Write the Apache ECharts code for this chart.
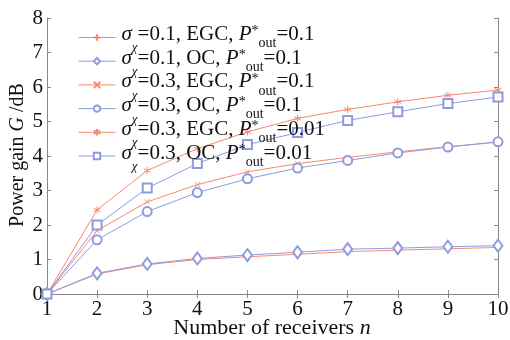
<!DOCTYPE html>
<html><head><meta charset="utf-8">
<script src="https://cdn.jsdelivr.net/npm/echarts@6/dist/echarts.min.js"></script>
<style>html,body{margin:0;padding:0;background:#fff}#c{width:510px;height:340px}</style>
</head><body><div id="c"></div>
<script>
const receivers = [1,2,3,4,5,6,7,8,9,10];
const egc01_p01 = [0,0.58,0.85,1.00,1.08,1.15,1.23,1.27,1.31,1.35];
const oc01_p01  = [0,0.60,0.87,1.03,1.13,1.21,1.30,1.33,1.37,1.40];
const egc03_p01 = [0,1.84,2.67,3.17,3.54,3.78,3.96,4.12,4.27,4.40];
const oc03_p01  = [0,1.57,2.39,2.94,3.34,3.65,3.87,4.09,4.26,4.41];
const egc03_p001= [0,2.44,3.58,4.21,4.70,5.09,5.35,5.57,5.76,5.91];
const oc03_p001 = [0,2.00,3.07,3.78,4.33,4.68,5.03,5.28,5.52,5.71];
const seriesNames = ['s01 EGC 0.1','s01 OC 0.1','s03 EGC 0.1','s03 OC 0.1','s03 EGC 0.01','s03 OC 0.01'];
const legendParts = [['0.1','EGC','0.1'],['0.1','OC','0.1'],['0.3','EGC','0.1'],['0.3','OC','0.1'],['0.3','EGC','0.01'],['0.3','OC','0.01']];
const allData = [egc01_p01, oc01_p01, egc03_p01, oc03_p01, egc03_p001, oc03_p001];
const xTitle = ['Number of receivers ', 'n'];
const yTitle = ['Power gain ', 'G', ' /dB'];

const ORANGE = '#f48a70', BLUE = '#8f9ae0';
const F = 'Liberation Serif';
const plus = 'path://M5,0L5,10M0,5L10,5';
const cross = 'path://M0,0L10,10M0,10L10,0';
const star = 'path://M5,0L5,10M0.7,2.5L9.3,7.5M0.7,7.5L9.3,2.5';
const styles = [
  {c:ORANGE, s:plus, z:8, path:true},
  {c:BLUE, s:'emptyDiamond', z:[9,12]},
  {c:ORANGE, s:cross, z:5, path:true},
  {c:BLUE, s:'emptyCircle', z:9},
  {c:ORANGE, s:star, z:7, path:true},
  {c:BLUE, s:'emptyRect', z:9}
];
const series = allData.map((d,i)=>{
  const st = styles[i];
  return {
    name: seriesNames[i], type:'line',
    data: receivers.map((x,j)=>[x,d[j]]),
    symbol: st.s, symbolSize: st.z, showSymbol:true,
    lineStyle:{color:st.c,width:1},
    itemStyle: st.path ? {color:'rgba(0,0,0,0)', borderColor:st.c, borderWidth:1} : {color:st.c, borderColor:st.c, borderWidth:1},
    animation:false
  };
});
const chart = echarts.init(document.getElementById('c'));
const axLine = {lineStyle:{color:'#888',width:1}};
const TXT = '#111';
const titleRich = fs => ({
  t:{fontFamily:F,fontSize:fs,fill:TXT},
  i:{fontFamily:F,fontSize:fs,fontStyle:'italic',fill:TXT}
});
chart.setOption({
  animation:false,
  grid:{left:47,right:12,top:18,bottom:46,outerBoundsMode:'none',containLabel:false},
  graphic:[
    {type:'text', x:272, y:328, silent:true,
     style:{text:'{t|'+xTitle[0]+'}{i|'+xTitle[1]+'}', rich:titleRich(22), align:'center', verticalAlign:'middle', fontFamily:F, fontSize:22, fill:TXT}},
    {type:'text', x:18, y:155, rotation:Math.PI/2, silent:true,
     style:{text:'{t|'+yTitle[0]+'}{i|'+yTitle[1]+'}{t|'+yTitle[2]+'}', rich:titleRich(20), align:'center', verticalAlign:'middle', fontFamily:F, fontSize:20, fill:TXT}}
  ],
  legend:{
    orient:'vertical', left:78, top:24, padding:0, itemWidth:37, itemHeight:8, itemGap:-6.8,
    data: seriesNames,
    lineStyle:{width:1},
    formatter: name => {
      const p = legendParts[seriesNames.indexOf(name)];
      return '{g|σ}{chi|χ}{t|=' + p[0] + ', ' + p[1] + ', }{i|P}{sp|*}{out|out}{t|=' + p[2] + '}';
    },
    textStyle:{
      fontFamily:F, fontSize:21, color:TXT, lineHeight:24,
      rich:{
        g:{fontFamily:F,fontSize:21,fontStyle:'italic',color:TXT,lineHeight:24,padding:[0,0,6,1]},
        t:{fontFamily:F,fontSize:21,color:TXT,lineHeight:24,padding:[0,0,6,0]},
        i:{fontFamily:F,fontSize:21,fontStyle:'italic',color:TXT,lineHeight:24,padding:[0,0,6,0]},
        chi:{fontFamily:F,fontSize:13,fontStyle:'italic',color:TXT,verticalAlign:'bottom',lineHeight:14,padding:[0,0,-5,0]},
        out:{fontFamily:F,fontSize:14,color:TXT,verticalAlign:'bottom',lineHeight:14,padding:[0,0,-1,0]},
        sp:{fontFamily:F,fontSize:14,color:TXT,verticalAlign:'top',lineHeight:14,padding:[-1,0,0,0]}
      }
    }
  },
  xAxis:[{
    type:'value', min:1, max:10, interval:1,
    axisLine:axLine, axisTick:{inside:true,length:4,lineStyle:{color:'#888'}},
    axisLabel:{fontFamily:F,fontSize:21,color:TXT,margin:5},
    splitLine:{show:false}
  },{
    type:'value', min:1, max:10, interval:1, position:'top',
    axisLine:axLine, axisTick:{inside:true,length:4,lineStyle:{color:'#888'}},
    axisLabel:{show:false}, splitLine:{show:false}
  }],
  yAxis:[{
    type:'value', min:0, max:8, interval:1,
    axisLine:{show:true,lineStyle:{color:'#888',width:1}}, axisTick:{show:true,inside:true,length:4,lineStyle:{color:'#888'}},
    axisLabel:{fontFamily:F,fontSize:21,color:TXT,margin:4},
    splitLine:{show:false}
  },{
    type:'value', min:0, max:8, interval:1, position:'right',
    axisLine:{show:true,lineStyle:{color:'#888',width:1}}, axisTick:{show:true,inside:true,length:4,lineStyle:{color:'#888'}},
    axisLabel:{show:false}, splitLine:{show:false}
  }],
  series: series
});
</script></body></html>
